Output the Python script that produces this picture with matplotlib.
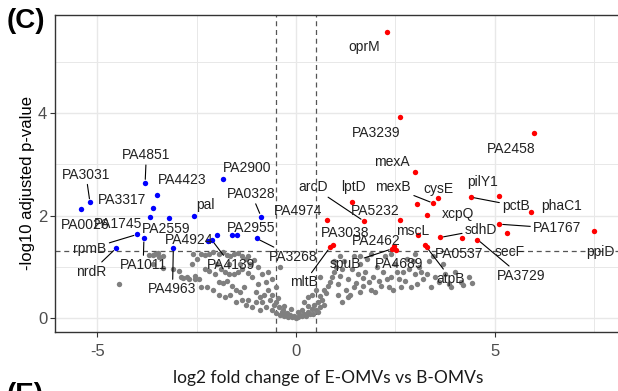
import matplotlib
matplotlib.use("Agg")
import matplotlib.pyplot as plt
from matplotlib.ticker import MultipleLocator

plt.rcParams['font.family'] = ['Liberation Sans', 'DejaVu Sans']
plt.rcParams['axes.unicode_minus'] = False

# down-regulated (blue)
down_genes = ["PA3031", "PA0026", "PA4851", "PA4423", "PA3317", "PA1745", "PA2559",
              "pal", "rpmB", "PA1011", "nrdR", "PA4963", "PA4924", "PA4139", "",
              "PA2955", "", "PA2900", "PA0328", "PA3268"]
down_fc = [-5.19, -5.42, -3.80, -3.51, -3.61, -3.68, -3.19, -2.57, -4.00, -3.83,
           -4.53, -3.09, -2.21, -2.12, -2.00, -1.62, -1.49, -1.83, -0.88, -0.99]
down_p = [2.26, 2.12, 2.64, 2.40, 2.15, 1.98, 1.95, 2.00, 1.63, 1.55,
          1.36, 1.36, 1.51, 1.52, 1.62, 1.62, 1.62, 2.71, 1.98, 1.55]

# up-regulated (red)
up_genes = ["oprM", "PA3239", "mexA", "PA2458", "arcD", "lptD", "mexB", "cysE", "",
            "pilY1", "pctB", "phaC1", "PA4974", "PA5232", "xcpQ", "PA1767", "PA3038",
            "mltB", "PA2462", "spuB", "PA4689", "mscL", "", "atpB", "sdhD", "PA0537",
            "PA3729", "secF", "ppiD"]
up_fc = [2.28, 2.62, 3.00, 5.99, 1.71, 1.40, 3.46, 3.58, 3.04, 5.12, 4.40, 5.92,
         0.77, 2.62, 3.29, 5.12, 0.94, 0.86, 2.47, 2.43, 2.52, 3.08, 3.25, 3.29,
         3.63, 4.17, 4.57, 5.32, 7.51]
up_p = [5.60, 3.92, 2.86, 3.62, 1.89, 2.26, 2.24, 2.34, 2.23, 2.38, 2.36, 2.07,
        1.91, 1.91, 2.01, 1.83, 1.42, 1.38, 1.41, 1.35, 1.32, 1.62, 1.42, 1.38,
        1.57, 1.55, 1.53, 1.65, 1.70]

# not significant (grey), read column by column from left to right
ns_fc = [-4.47, -3.70, -3.60, -3.55, -3.48, -3.45, -3.60, -3.35, -3.35, -3.10, -2.95,
         -2.90, -2.85, -2.75, -2.70, -2.55, -2.55, -2.45, -2.62, -2.60, -2.50, -2.40,
         -2.40, -2.30, -2.30, -2.25, -2.20, -2.20, -2.10, -2.10, -2.05, -2.00, -1.95,
         -1.95, -1.95, -1.90, -1.85, -1.85, -1.80, -1.80, -1.75, -1.75, -1.70, -1.70,
         -1.65, -1.65, -1.60, -1.55, -1.55, -1.50, -1.50, -1.45, -1.45, -1.40, -1.40,
         -1.35, -1.35, -1.35, -1.30, -1.25, -1.25, -1.20, -1.20, -1.20, -1.15, -1.10,
         -1.10, -1.05, -1.00, -1.00, -0.95, -0.95, -0.90, -0.90, -0.85, -0.85, -0.80,
         -0.75, -0.75, -0.70, -0.70, -0.65, -0.60, -0.60, -0.60, -0.55, -0.50, -0.50,
         -0.50, -0.45, -0.42, -0.40, -0.40, -0.35, -0.32, -0.30, -0.30, -0.25, -0.22,
         -0.20, -0.15, -0.12, -0.10, -0.05, 0.00,
         0.05, 0.05, 0.10, 0.15, 0.15, 0.20, 0.20, 0.25, 0.30, 0.30, 0.30, 0.35, 0.40,
         0.40, 0.42, 0.45, 0.50, 0.50, 0.55, 0.55, 0.60, 0.60, 0.60, 0.65, 0.70, 0.70,
         0.75, 0.80, 0.85, 0.90, 0.95, 0.95, 1.00, 1.05, 1.05, 1.10, 1.10, 1.15, 1.15,
         1.20, 1.25, 1.30, 1.30, 1.35, 1.40, 1.45, 1.45, 1.50, 1.55, 1.60, 1.60, 1.60,
         1.70, 1.70, 1.75, 1.80, 1.85, 1.90, 1.90, 1.95, 2.00, 2.05, 2.10, 2.15, 2.20,
         2.25, 2.30, 2.35, 2.40, 2.40, 2.45, 2.50, 2.55, 2.60, 2.65, 2.70, 2.75, 2.80,
         2.85, 2.90, 2.95, 3.00, 3.00, 3.05, 3.10, 3.15, 3.20, 3.30, 3.35, 3.40, 3.45,
         3.50, 3.60, 3.70, 3.75, 3.85, 3.90, 4.00, 4.15, 4.20, 4.35, 4.43]
ns_p = [0.66, 1.22, 1.23, 1.25, 1.27, 1.18, 1.05, 0.98, 1.20, 0.95, 0.92,
        0.80, 0.78, 0.80, 0.76, 0.76, 0.82, 0.76, 1.05, 1.25, 1.15, 1.25,
        0.60, 1.22, 0.95, 0.60, 1.25, 0.92, 1.28, 0.55, 0.85, 1.05, 1.25,
        0.70, 0.45, 0.95, 1.28, 0.68, 0.90, 0.40, 1.22, 0.72, 0.85, 1.05,
        1.20, 0.45, 0.62, 1.25, 0.85, 0.55, 0.30, 1.27, 0.90, 0.50, 1.05,
        1.20, 0.95, 0.35, 0.60, 1.15, 0.25, 0.88, 0.35, 1.20, 1.05, 0.80,
        0.20, 1.12, 0.50, 0.30, 0.65, 1.00, 0.40, 0.15, 0.30, 0.85, 0.45,
        0.20, 0.70, 0.55, 0.90, 0.35, 0.15, 0.75, 0.45, 0.25, 0.10, 0.60,
        0.30, 0.38, 0.20, 0.05, 1.00, 0.12, 0.15, 0.03, 0.22, 0.08, 0.10,
        0.02, 0.06, 0.18, 0.01, 0.04, 0.00,
        0.02, 0.12, 0.05, 0.03, 0.15, 0.08, 0.30, 0.04, 0.12, 0.22, 0.40, 0.07, 0.18,
        0.45, 0.08, 0.25, 0.15, 0.55, 0.30, 0.12, 0.42, 0.80, 0.20, 0.35, 0.55, 0.25,
        0.48, 0.62, 0.70, 0.80, 0.90, 1.10, 1.00, 0.65, 0.45, 0.82, 1.20, 0.95, 0.30,
        1.10, 0.55, 0.75, 0.40, 0.45, 0.95, 1.20, 0.60, 0.68, 0.85, 1.05, 0.50, 1.20,
        0.78, 0.62, 0.90, 1.15, 0.70, 0.55, 1.25, 0.80, 0.50, 1.00, 0.72, 0.62, 0.90,
        1.20, 0.75, 0.60, 0.80, 1.25, 0.55, 1.05, 0.90, 0.75, 0.60, 0.90, 0.72, 1.15,
        0.95, 0.60, 1.10, 0.85, 1.25, 0.65, 1.00, 0.90, 0.75, 0.85, 1.10, 0.60, 1.20,
        0.80, 0.70, 1.05, 0.85, 0.65, 0.60, 0.90, 0.70, 0.64, 0.80, 0.67]

# where ggrepel put the labels, and which got a leader segment
label_pos = {
    "PA3031": (-5.29, 2.80), "PA0026": (-5.31, 1.81), "PA4851": (-3.77, 3.18),
    "PA4423": (-2.87, 2.70), "PA3317": (-4.39, 2.31), "PA1745": (-4.48, 1.83),
    "PA2559": (-3.27, 1.73), "pal": (-2.29, 2.21), "rpmB": (-5.19, 1.35),
    "nrdR": (-5.15, 0.90), "PA1011": (-3.85, 1.03), "PA4924": (-2.70, 1.52),
    "PA4963": (-3.11, 0.56), "PA4139": (-1.64, 1.03), "PA2955": (-1.12, 1.76),
    "PA2900": (-1.22, 2.92), "PA0328": (-1.12, 2.42), "PA3268": (-0.07, 1.19),
    "oprM": (1.71, 5.29), "PA3239": (2.03, 3.61), "mexA": (2.41, 3.05),
    "PA2458": (5.41, 3.30), "arcD": (0.44, 2.55), "lptD": (1.44, 2.55),
    "mexB": (2.45, 2.55), "cysE": (3.59, 2.52), "pilY1": (4.69, 2.66),
    "pctB": (5.54, 2.19), "phaC1": (6.68, 2.19), "PA4974": (0.04, 2.09),
    "PA5232": (1.99, 2.09), "xcpQ": (4.09, 2.03), "PA1767": (6.58, 1.75),
    "PA3038": (1.23, 1.66), "PA2462": (2.02, 1.51), "mscL": (2.95, 1.69),
    "sdhD": (4.66, 1.72), "PA0537": (4.11, 1.24), "secF": (5.39, 1.29),
    "ppiD": (7.66, 1.29), "spuB": (1.25, 1.05), "PA4689": (2.60, 1.05),
    "mltB": (0.21, 0.69), "atpB": (3.90, 0.76), "PA3729": (5.66, 0.82),
}
with_segment = {"PA3031", "PA4851", "rpmB", "nrdR", "PA1011", "PA4963", "PA4139",
                "PA0328", "PA3268", "arcD", "mexB", "mltB", "spuB", "atpB", "sdhD",
                "pctB", "PA1767", "PA3729"}

fig = plt.figure(figsize=(6.18, 3.91), dpi=100)
ax = fig.add_axes([55 / 618, 59.3 / 391, 563 / 618, 316.7 / 391])

ax.set_xlim(-6.07, 8.11)
ax.set_ylim(-0.274, 5.924)
ax.xaxis.set_major_locator(MultipleLocator(5))
ax.xaxis.set_minor_locator(MultipleLocator(2.5))
ax.yaxis.set_major_locator(MultipleLocator(2))
ax.yaxis.set_minor_locator(MultipleLocator(1))
ax.grid(which='major', color='#e8e8e8', lw=1.0)
ax.grid(which='minor', color='#e8e8e8', lw=0.7)
ax.set_axisbelow(True)
ax.tick_params(which='major', length=3.5, width=0.8, color='#333333',
               labelcolor='#4d4d4d', labelsize=12, pad=2)
ax.tick_params(axis='x', which='major', pad=5)
ax.tick_params(which='minor', length=0)
for side in ['left', 'top', 'bottom']:
    ax.spines[side].set_color('#333333')
    ax.spines[side].set_linewidth(1.0)
ax.spines['right'].set_visible(False)

ax.axvline(-0.5, color='#555555', ls=(0, (4, 3)), lw=0.9, zorder=1.5)
ax.axvline(0.5, color='#555555', ls=(0, (4, 3)), lw=0.9, zorder=1.5)
ax.axhline(1.3, color='#555555', ls=(0, (4, 3)), lw=0.9, zorder=1.5)

ax.scatter(ns_fc, ns_p, s=15, color='#7f7f7f', linewidths=0, zorder=2)
ax.scatter(down_fc, down_p, s=15, color='#0000ff', linewidths=0, zorder=3)
ax.scatter(up_fc, up_p, s=15, color='#ff0000', linewidths=0, zorder=3)

for genes, xs, ys in [(down_genes, down_fc, down_p), (up_genes, up_fc, up_p)]:
    for g, x, y in zip(genes, xs, ys):
        if not g:
            continue
        lx, ly = label_pos[g]
        arrow = None
        if g in with_segment:
            arrow = dict(arrowstyle='-', color='black', lw=0.8, shrinkA=0, shrinkB=2.5)
        ax.annotate(g, xy=(x, y), xytext=(lx, ly), ha='center', va='center',
                    fontsize=10, color='#222222', arrowprops=arrow, zorder=4)

ax.set_ylabel('-log10 adjusted p-value', fontsize=12, color='black')
ax.yaxis.set_label_coords(-0.036, 0.47)

fig.text(328 / 618, 1 - 378 / 391, 'log2 fold change of E-OMVs vs B-OMVs',
         family=['Lato', 'DejaVu Sans'], fontsize=12.5, ha='center', va='center',
         color='#1a1a1a')
fig.text(7 / 618, 1 - 8 / 391, '(C)', fontsize=20, fontweight='bold', va='top', ha='left')
fig.text(7 / 618, 1 - 382 / 391, '(E)', fontsize=20, fontweight='bold', va='top', ha='left')

fig.savefig('out.png', dpi=100)
